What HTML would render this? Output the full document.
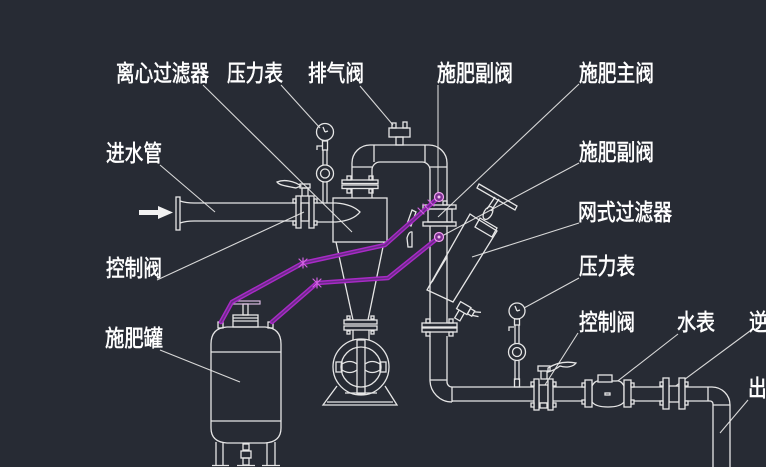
<!DOCTYPE html>
<html><head><meta charset="utf-8">
<style>
html,body{margin:0;padding:0;background:#272b34;}
svg{display:block}
text{font-family:"Liberation Sans","Noto Sans CJK SC",sans-serif;fill:#ffffff;font-size:23px;stroke:#ffffff;stroke-width:0.6px;}
</style></head><body>
<svg width="766" height="467" viewBox="0 0 766 467" xmlns="http://www.w3.org/2000/svg">
<rect width="766" height="467" fill="#272b34"/>

<!-- labels -->
<text x="116" y="81" textLength="93" lengthAdjust="spacingAndGlyphs">离心过滤器</text>
<text x="227" y="81" textLength="56" lengthAdjust="spacingAndGlyphs">压力表</text>
<text x="308" y="81" textLength="56" lengthAdjust="spacingAndGlyphs">排气阀</text>
<text x="437" y="81" textLength="76" lengthAdjust="spacingAndGlyphs">施肥副阀</text>
<text x="579" y="81" textLength="75" lengthAdjust="spacingAndGlyphs">施肥主阀</text>
<text x="106" y="161" textLength="56" lengthAdjust="spacingAndGlyphs">进水管</text>
<text x="579" y="160" textLength="75" lengthAdjust="spacingAndGlyphs">施肥副阀</text>
<text x="578" y="220" textLength="94" lengthAdjust="spacingAndGlyphs">网式过滤器</text>
<text x="579" y="274" textLength="56" lengthAdjust="spacingAndGlyphs">压力表</text>
<text x="106" y="276" textLength="56" lengthAdjust="spacingAndGlyphs">控制阀</text>
<text x="579" y="330" textLength="56" lengthAdjust="spacingAndGlyphs">控制阀</text>
<text x="677" y="330" textLength="38" lengthAdjust="spacingAndGlyphs">水表</text>
<text x="749" y="330" textLength="56" lengthAdjust="spacingAndGlyphs">逆止阀</text>
<text x="105" y="346" textLength="58" lengthAdjust="spacingAndGlyphs">施肥罐</text>
<text x="748" y="396" textLength="56" lengthAdjust="spacingAndGlyphs">出水管</text>

<!-- leader lines -->
<g stroke="#d8d8d8" stroke-width="1.1" fill="none">
<line x1="203" y1="85" x2="352" y2="232"/>
<line x1="281" y1="85" x2="320" y2="128"/>
<line x1="360" y1="86" x2="393" y2="125"/>
<line x1="438" y1="85" x2="438" y2="193"/>
<line x1="579" y1="84" x2="438" y2="217"/>
<line x1="160" y1="165" x2="215" y2="212"/>
<line x1="579" y1="163" x2="442" y2="236"/>
<line x1="579" y1="223" x2="472" y2="257"/>
<line x1="579" y1="278" x2="524" y2="308"/>
<line x1="157" y1="280" x2="304" y2="212"/>
<line x1="578" y1="333" x2="543" y2="388"/>
<line x1="678" y1="334" x2="610" y2="387"/>
<line x1="750" y1="331" x2="673" y2="388"/>
<line x1="160" y1="350" x2="240" y2="382"/>
<line x1="748" y1="400" x2="720" y2="433"/>
</g>

<!-- inlet arrow -->
<polygon points="139,210 158,210 158,206 173,212.5 158,219 158,215 139,215" fill="#f2f2f2"/>

<g stroke="#e6e6e6" stroke-width="1.3" fill="none">
<!-- inlet pipe -->
<rect x="176" y="197" width="4" height="33"/>
<path d="M180,201 Q186,203 194,203 L296,203 M180,223 Q186,221 194,221 L296,221"/>
<!-- left control valve -->
<rect x="296" y="196" width="5" height="32"/>
<rect x="309" y="196" width="5" height="32"/>
<rect x="301" y="203" width="8" height="18"/>
<rect x="293" y="199" width="3" height="4"/><rect x="293" y="221" width="3" height="4"/>
<rect x="314" y="199" width="3" height="4"/><rect x="314" y="221" width="3" height="4"/>
<rect x="302" y="188" width="6" height="8"/>
<rect x="300" y="184" width="10" height="4"/>
<path d="M301,186 C294,181 284,179 277,182 C279,185 285,186 296,188 Z"/>
<!-- cyclone box & inlet bullet -->
<rect x="333" y="198" width="54" height="44"/>
<path d="M317,203 L336,203 C349,204 356,208 360,212 C356,217 349,221 336,222 L317,222"/>
<!-- left gauge -->
<circle cx="325" cy="132" r="8.5"/>
<path d="M325,132 L323,127 M325,132 L328,131"/>
<rect x="322.5" y="141" width="5" height="9"/>
<path d="M322,146 L317,146 L317,150"/>
<path d="M323,150 L323,165 M327,150 L327,165"/>
<circle cx="325" cy="173.5" r="8.5"/>
<circle cx="325" cy="173.5" r="4.5"/>
<path d="M323,182 L323,203 M327,182 L327,203"/>
<!-- cone -->
<path d="M336,242 L353,320 M384,242 L368,320"/>
<rect x="344" y="320" width="33" height="4"/>
<rect x="344" y="326" width="33" height="4"/>
<rect x="347" y="316" width="3" height="3"/><rect x="371" y="316" width="3" height="3"/>
<rect x="347" y="331" width="3" height="3"/><rect x="371" y="331" width="3" height="3"/>
<path d="M353,330 L353,340 M369,330 L369,340"/>
<!-- sand collector -->
<circle cx="361" cy="367" r="28"/>
<circle cx="361" cy="367" r="20"/>
<rect x="357" y="340" width="8" height="54"/>
<rect x="336" y="362" width="6" height="10"/>
<rect x="380" y="362" width="6" height="10"/>
<path d="M342,364 Q350,359 357,364 M342,370 Q350,375 357,370 M365,364 Q372,359 380,364 M365,370 Q372,375 380,370"/>
<path d="M337,386 L323,405 L397,405 L385,386 M327,402 L393,402 M345,393 L377,393"/>
<!-- outlet tube & elbow -->
<path d="M352,188 L352,198 M372,188 L372,198"/>
<rect x="342" y="180" width="36" height="3.5"/>
<rect x="342" y="185" width="36" height="3.5"/>
<rect x="347" y="176" width="4" height="4"/><rect x="369" y="176" width="4" height="4"/>
<rect x="347" y="189" width="4" height="4"/><rect x="369" y="189" width="4" height="4"/>
<path d="M352,180 L352,163 A18,18 0 0 1 370,145 L429,145 A18,18 0 0 1 447,163 L447,205"/>
<path d="M372,180 L372,170 A8,8 0 0 1 380,162 L422,162 A8,8 0 0 1 430,170 L430,205"/>
<path d="M374,145 L374,162 M425,145 L425,162 M352,167 L372,167 M430,167 L447,167"/>
<!-- exhaust valve -->
<rect x="389" y="128" width="21" height="9"/>
<rect x="392" y="123" width="4" height="5"/>
<rect x="403" y="122" width="4" height="6"/>
<rect x="396" y="137" width="7" height="8"/>
<!-- main fert valve on vertical pipe -->
<rect x="423" y="205" width="33" height="4"/>
<rect x="428" y="209" width="24" height="13"/>
<path d="M447,209 L447,222"/>
<rect x="423" y="222" width="33" height="4"/>
<rect x="443" y="201" width="4" height="4"/>
<!-- vertical pipe -->
<path d="M430,226 L430,323 M447,226 L447,323"/>
<rect x="422" y="323" width="35" height="4"/>
<rect x="422" y="328" width="35" height="4"/>
<rect x="426" y="319" width="4" height="4"/><rect x="449" y="319" width="4" height="4"/>
<rect x="426" y="332" width="4" height="4"/><rect x="449" y="332" width="4" height="4"/>
<path d="M430,336 L430,380 A22,22 0 0 0 452,402 M447,336 L447,382 A5,5 0 0 0 452,387"/>
<path d="M430,380 L447,380 M452,387 L452,402"/>
<!-- horizontal pipe -->
<path d="M452,387 L708,387 M452,401 L708,401"/>
<!-- right elbow -->
<path d="M708,387 L712,387 A18,18 0 0 1 730,405 L730,467 M708,401 L710,401 A3,3 0 0 1 713,404 L713,467"/>
<path d="M708,387 L708,401 M713,405 L730,405"/>
<!-- right gauge -->
<circle cx="517" cy="311" r="8"/>
<path d="M517,311 L515,306 M517,311 L520,310"/>
<rect x="514.5" y="319" width="5" height="6"/>
<path d="M514,327 L509,327 L509,331"/>
<path d="M515,325 L515,344 M519,325 L519,344"/>
<circle cx="517" cy="352" r="8.5"/>
<circle cx="517" cy="352" r="4.5"/>
<path d="M515,361 L515,380 M519,361 L519,380"/>
<rect x="514.5" y="379" width="5" height="8"/>
</g>

<!-- valves on horizontal pipe (filled to hide pipe) -->
<g stroke="#e6e6e6" stroke-width="1.3" fill="#272b34">
<rect x="539" y="385" width="9" height="18"/>
<rect x="534" y="379" width="5" height="31"/>
<rect x="548" y="379" width="5" height="31"/>
<rect x="531" y="382" width="3" height="4"/><rect x="531" y="403" width="3" height="4"/>
<rect x="553" y="382" width="3" height="4"/><rect x="553" y="403" width="3" height="4"/>
<rect x="540" y="403" width="7" height="5"/>
<rect x="541" y="370" width="6" height="9"/>
<rect x="538" y="366" width="12" height="5"/>
<path d="M548,368 C556,363 566,361 576,363 C573,367 566,368 560,366 C556,369 552,371 548,372 Z" fill="none"/>
<!-- water meter -->
<path d="M592,386 Q595,380 600,381 L616,381 Q621,380 624,386 L624,402 Q620,407 608,407 Q596,407 592,402 Z"/>
<rect x="598" y="375" width="14" height="7"/>
<rect x="585" y="380" width="7" height="27"/>
<rect x="624" y="380" width="7" height="27"/>
<rect x="582" y="383" width="3" height="4"/><rect x="582" y="400" width="3" height="4"/>
<rect x="631" y="383" width="3" height="4"/><rect x="631" y="400" width="3" height="4"/>
<rect x="605" y="393" width="5" height="2"/>
<!-- check valve -->
<rect x="669" y="386" width="10" height="16"/>
<rect x="663" y="378" width="6" height="31"/>
<rect x="679" y="378" width="6" height="31"/>
<rect x="660" y="382" width="3" height="4"/><rect x="660" y="401" width="3" height="4"/>
<rect x="685" y="382" width="3" height="4"/><rect x="685" y="401" width="3" height="4"/>
</g>

<!-- Y strainer -->
<g stroke="#e6e6e6" stroke-width="1.3" fill="none">
<polygon points="479,184 517,206 515,210 477,188"/>
<path d="M495,197 L487,209 M499,199 L491,211"/>
<ellipse cx="488" cy="213" rx="4" ry="7" transform="rotate(30 488 213)"/>
<polygon points="480,218 497,228 492,237 475,227"/>
<polygon points="470,214 476,218 497,231 453,302 427,290"/>
<path d="M447,257 Q440,268 432,282"/>
<g transform="rotate(30 465 310)">
<rect x="457" y="305" width="12" height="8"/>
<rect x="469" y="306" width="5" height="6"/>
<path d="M460,313 L460,322 L466,322 L466,313"/>
<path d="M474,307 L480,304 M474,311 L480,309"/>
</g>
<!-- small fittings near hose -->
<polygon points="412,210 416,212 411,226 407,224"/>
<path d="M408,247 L407,238 Q409,231 412,232 L412,247 Z"/>
</g>

<!-- tank -->
<g stroke="#e6e6e6" stroke-width="1.3" fill="none">
<path d="M211,428 L211,344 Q211,328 227,327 L265,327 Q281,328 281,344 L281,428 Q281,442 265,443 L227,443 Q211,442 211,428 Z"/>
<path d="M211,352 L281,352 M211,421 L281,421"/>
<rect x="233" y="315" width="25" height="12"/>
<path d="M233,318 L258,318 M233,321 L258,321"/>
<rect x="243" y="304" width="5" height="11"/>
<rect x="218" y="322" width="5" height="6"/>
<rect x="268" y="322" width="5" height="6"/>
<path d="M216,442 L216,465 M223,443 L223,465 M267,443 L267,465 M275,442 L275,465"/>
<path d="M212,465.5 L229,465.5 M262,465.5 L280,465.5 M237,465.5 L255,465.5"/>
<rect x="243" y="444" width="6" height="6"/>
<rect x="241" y="451" width="10" height="7"/>
<rect x="243" y="458" width="6" height="7"/>
</g>
<rect x="231" y="301" width="29" height="3" fill="none" stroke="#d8b8e0" stroke-width="1.2"/>

<!-- magenta hoses -->
<g fill="none" stroke-linejoin="round" stroke-linecap="round">
<path d="M439,197 L385,245 L303,263 L232,302 L221,322" stroke="#a82ac6" stroke-width="4.5"/>
<path d="M439,237 L388,278 L317,283 L272,322" stroke="#a82ac6" stroke-width="4.5"/>
<path d="M439,197 L385,245 L303,263 L232,302 L221,322" stroke="#6a2a88" stroke-width="1.6"/>
<path d="M439,237 L388,278 L317,283 L272,322" stroke="#6a2a88" stroke-width="1.6"/>
<g stroke="#d060e0" stroke-width="1.2">
<path d="M299,259 L307,267 M299,267 L307,259 M303,258 L303,268"/>
<path d="M313,279 L321,287 M313,287 L321,279 M317,278 L317,288"/>
<path d="M418,208 L424,214 M423,204 L429,210 M428,200 L434,206"/>
</g>
</g>
<g stroke="#f0a0f0" stroke-width="1.2" fill="#7a3090">
<circle cx="439" cy="197" r="4.5"/>
<circle cx="439" cy="237" r="4.5"/>
</g>
<g fill="#f0c0f0">
<circle cx="439" cy="197" r="1.5"/>
<circle cx="439" cy="237" r="1.5"/>
</g>
</svg>
</body></html>
